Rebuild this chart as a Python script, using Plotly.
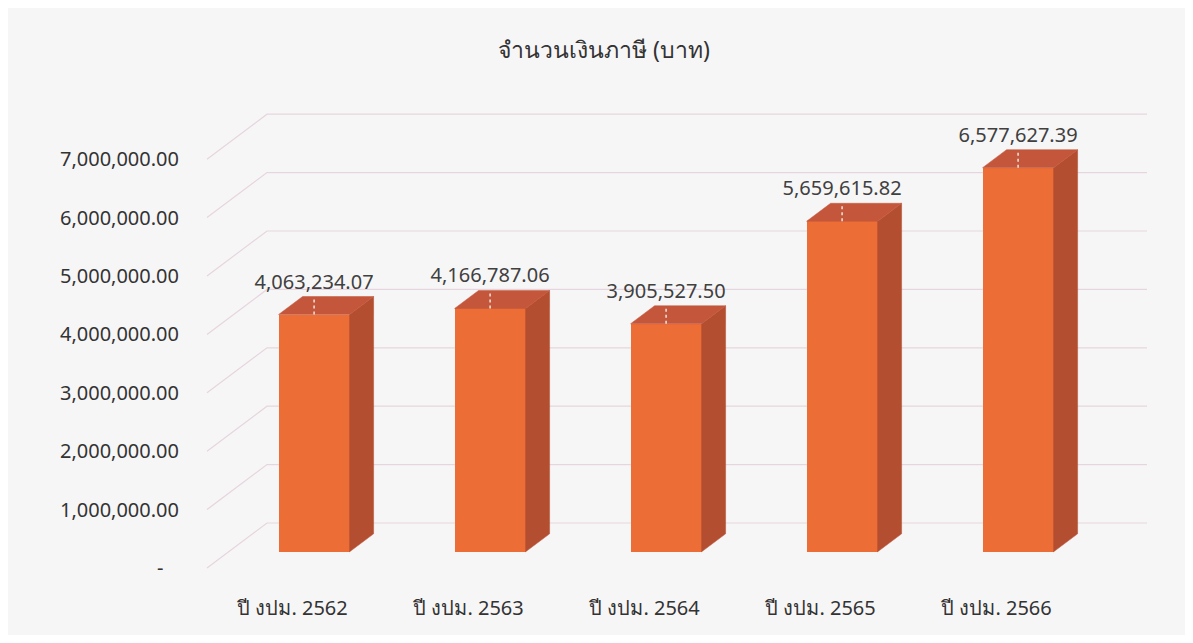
import plotly.graph_objects as go

# ---- data ----
categories = ["ปี งปม. 2562", "ปี งปม. 2563", "ปี งปม. 2564", "ปี งปม. 2565", "ปี งปม. 2566"]
values = [4063234.07, 4166787.06, 3905527.50, 5659615.82, 6577627.39]
tick_values = [0, 1000000, 2000000, 3000000, 4000000, 5000000, 6000000, 7000000]
title_text = "จำนวนเงินภาษี (บาท)"

# ---- geometry / style constants (page pixels, body margin compensated) ----
OFF = 8                                # default body margin of the html page
W, H = 1193 - 2 * OFF, 643 - 2 * OFF
PX_PER_CAT = 176.0
PX_PER_UNIT = 58.4 / 1e6               # pixels per baht
X0_PX = 292.5 - OFF                    # pixel of category 0 on the front plane
Y0_PX = 568.0 - OFF                    # pixel of value 0 on the front plane
L, R, T, B = 190 - OFF, 1175 - OFF, 90 - OFF, 585 - OFF

DX_FULL = 60.0 / PX_PER_CAT            # full depth offset in category units
DY_FULL = 45.0 / PX_PER_UNIT           # full depth offset in value units
D_FRONT, D_BACK = 0.36, 0.76           # bar depth range (fraction of floor depth)
BAR_W = 71.0 / PX_PER_CAT
WALL_LEFT = (207.0 - OFF - X0_PX) / PX_PER_CAT
WALL_RIGHT = (1087.0 - OFF - X0_PX) / PX_PER_CAT
LABEL_GAP = 31.0 / PX_PER_UNIT
LEADER = 18.0 / PX_PER_UNIT

C_FRONT = "#EC6D36"
C_SIDE = "#B44E31"
C_TOP = "#C4573B"
C_GRID = "#E6D5DE"
TEXT = "#404040"
FONT = "Noto Sans, DejaVu Sans, Lato, sans-serif"


def proj(x, v, d):
    return x + d * DX_FULL, v + d * DY_FULL


fig = go.Figure()

# gridlines on side wall + back wall (drawn beneath all traces)
for t in tick_values:
    p0 = proj(WALL_LEFT, t, 0)
    p1 = proj(WALL_LEFT, t, 1)
    p2 = proj(WALL_RIGHT, t, 1)
    fig.add_shape(type="path", layer="below", xref="x", yref="y",
                  path=f"M {p0[0]},{p0[1]} L {p1[0]},{p1[1]} L {p2[0]},{p2[1]}",
                  line=dict(color=C_GRID, width=1.2))

# side and top faces of bars
for i, v in enumerate(values):
    xl, xr = i - BAR_W / 2, i + BAR_W / 2
    a = proj(xr, 0, D_FRONT); b = proj(xr, 0, D_BACK)
    c = proj(xr, v, D_BACK); d = proj(xr, v, D_FRONT)
    fig.add_trace(go.Scatter(x=[a[0], b[0], c[0], d[0], a[0]], y=[a[1], b[1], c[1], d[1], a[1]],
                             mode="lines", fill="toself", fillcolor=C_SIDE,
                             line=dict(color=C_SIDE, width=0.5), hoverinfo="skip", showlegend=False))
    e = proj(xl, v, D_FRONT); f = proj(xl, v, D_BACK)
    g = proj(xr, v, D_BACK); h = proj(xr, v, D_FRONT)
    fig.add_trace(go.Scatter(x=[e[0], f[0], g[0], h[0], e[0]], y=[e[1], f[1], g[1], h[1], e[1]],
                             mode="lines", fill="toself", fillcolor=C_TOP,
                             line=dict(color=C_TOP, width=0.5), hoverinfo="skip", showlegend=False))

# front faces
fx = [proj(i, 0, D_FRONT)[0] for i in range(len(values))]
fbase = proj(0, 0, D_FRONT)[1]
fig.add_trace(go.Bar(x=fx, y=values, base=[fbase] * len(values), width=BAR_W,
                     marker=dict(color=C_FRONT, line=dict(width=0)),
                     hoverinfo="skip", showlegend=False))

# leader lines
for x, v in zip(fx, values):
    fig.add_trace(go.Scatter(x=[x, x], y=[v + fbase, v + fbase + LEADER], mode="lines",
                             line=dict(color="#EFE4DE", width=1.5, dash="dot"),
                             hoverinfo="skip", showlegend=False))

# data labels
fig.add_trace(go.Scatter(x=fx, y=[v + fbase + LABEL_GAP for v in values], mode="text",
                         text=[f"{v:,.2f}" for v in values],
                         textfont=dict(family=FONT, size=20, color=TEXT),
                         textposition="middle center", hoverinfo="skip", showlegend=False))

xr0 = (L - X0_PX) / PX_PER_CAT
xr1 = (R - X0_PX) / PX_PER_CAT
yr0 = (Y0_PX - B) / PX_PER_UNIT
yr1 = (Y0_PX - T) / PX_PER_UNIT

fig.update_layout(
    width=W, height=H,
    margin=dict(l=L, r=W - R, t=T, b=H - B),
    paper_bgcolor="#F7F6F7", plot_bgcolor="rgba(0,0,0,0)",
    bargap=0,
    title=dict(text=title_text, x=(604 - OFF) / W, xanchor="center", y=1 - (50 - OFF) / H,
               yanchor="middle", yref="container",
               font=dict(family=FONT, size=23, color="#333333")),
    xaxis=dict(range=[xr0, xr1], tickmode="array", tickvals=list(range(len(categories))),
               ticktext=categories, showgrid=False, zeroline=False, showline=False,
               ticks="outside", ticklen=5, tickcolor="rgba(0,0,0,0)",
               tickfont=dict(family=FONT, size=20, color="#333333")),
    yaxis=dict(range=[yr0, yr1], tickmode="array", tickvals=tick_values,
               ticktext=[f"{t:,.2f}" if t else "-\u00a0\u00a0\u00a0" for t in tick_values],
               showgrid=False, zeroline=False, showline=False,
               ticks="outside", ticklen=6, tickcolor="rgba(0,0,0,0)",
               tickfont=dict(family=FONT, size=20, color="#333333")),
)

fig.write_html("out.html")
